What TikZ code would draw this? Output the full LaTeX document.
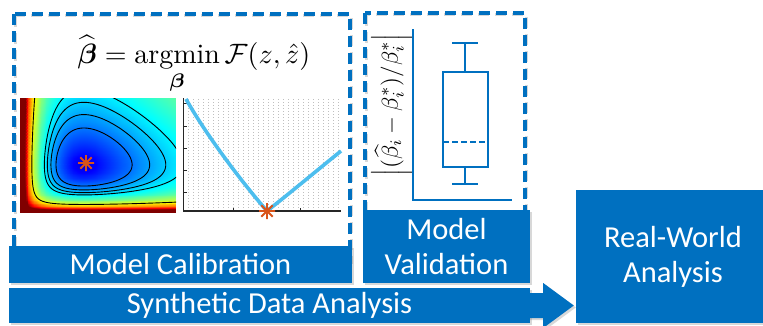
\documentclass[tikz,border=0pt]{standalone}
\usepackage{amsmath}
\usepackage{fontspec}
\newfontfamily\calib{Carlito}
\usepackage{pgfplots}
\pgfplotsset{compat=1.18}
\usetikzlibrary{calc,shadows}

\definecolor{brandblue}{HTML}{0070C0}
\definecolor{curveblue}{rgb}{0.301,0.745,0.933}
\definecolor{starred}{rgb}{0.85,0.325,0.098}

\tikzset{
  frame/.style={draw=brandblue, line width=3.5pt, dash pattern=on 11pt off 6pt},
  frameshade/.style={draw=black!25, line width=3.5pt, dash pattern=on 11pt off 6pt, opacity=0.6},
  bar/.style={fill=brandblue, text=white, inner sep=0pt, align=center,
    font=\calib\fontsize{30.5}{35}\selectfont,
    drop shadow={opacity=0.3, shadow xshift=2pt, shadow yshift=-2pt}},
  boxline/.style={draw=brandblue, line width=2.6pt},
  starmark/.style={draw=starred, line width=1.9pt},
  asterisk/.pic={
    \draw[starmark] (-8,0) -- (8,0) (0,-8) -- (0,8)
      (-5.7,-5.7) -- (5.7,5.7) (-5.7,5.7) -- (5.7,-5.7);
  },
}

\begin{document}
\begin{tikzpicture}[x=1pt,y=1pt]
\useasboundingbox (0,0) rectangle (763,-325);
\fill[white] (0,0) rectangle (763,-325);

% dashed frames around calibration and validation panels
\draw[frameshade] (15.5,-15.5) rectangle (351.5,-262);
\draw[frame] (14,-14) rectangle (350,-262);
\draw[frameshade] (366.5,-14.5) rectangle (526.5,-230);
\draw[frame] (365,-13) rectangle (525,-230);

% cost-function landscape (jet colour map with contour lines);
% the grid is denser towards the steep left and bottom edges
\begin{axis}[at={(20pt,-212pt)}, anchor=south west, scale only axis,
  width=156pt, height=114pt, hide axis, view={0}{90},
  xmin=0.03, xmax=2.4, ymin=0.06, ymax=2.33,
  colormap/jet, point meta min=0, point meta max=1,
  declare function={
    gridx(\s)=0.03+2.37*\s*sqrt(\s);
    gridy(\s)=0.06+2.27*\s*sqrt(\s);
    cost(\a,\b)=1/\a+\a+1/\b+\b;
    tone(\a,\b)=0.08+0.3*exp(0.54*ln(max(cost(\a,\b)-4,0.0001)));
  }]
  \addplot3[surf, shader=interp, domain=0:1, y domain=0:1, samples=50]
    ({gridx(x)}, {gridy(y)}, {tone(gridx(x),gridy(y))});
  \pgfplotsinvokeforeach{0.31,0.5,0.69,0.9,2.97}{
    \addplot3[black, line width=0.9pt, domain=0:360, samples=181, samples y=0]
      ({(2+#1*sin(x)*sin(x)+sin(x)*sqrt(4*#1+#1*#1*sin(x)*sin(x)))/2},
       {(2+#1*cos(x)*cos(x)+cos(x)*sqrt(4*#1+#1*#1*cos(x)*cos(x)))/2}, 6);
  }
\end{axis}
\pic at (86,-163) {asterisk};

% one-dimensional cost profile
\foreach \xx in {188,193,...,338}
  \draw[gray!50, line width=0.5pt, dash pattern=on 0.7pt off 2.3pt] (\xx,-99) -- (\xx,-208);
\draw[black!85, line width=1.2pt] (183.5,-98) -- (183.5,-211) -- (341,-211);
\foreach \yy in {103,126,148,170,192}
  \draw[black!85, line width=1pt] (183.5,-\yy) -- +(3.5,0);
\foreach \xx in {233,300}
  \draw[black!85, line width=1pt] (\xx,-211) -- +(0,3.5);
\draw[curveblue, line width=3.6pt]
  (186,-99) .. controls (205,-133) and (240,-180) .. (267,-211)
  .. controls (290,-193) and (315,-172) .. (341,-151);
\pic at (267,-211) {asterisk};

% objective
\node[anchor=base, scale=2.8] (formula) at (194,-63)
  {$\displaystyle \widehat{\boldsymbol{\beta}} = \operatorname*{argmin}_{\boldsymbol{\beta}} \mathcal{F}(z,\hat{z})$};

% validation box plot
\node[rotate=90, scale=2.3] (vlabel) at (392,-105)
  {$\left|(\widehat{\beta}_i-\beta_i^*)/\beta_i^*\right|$};
\draw[boxline] (413,-29) -- (413,-200) -- (512,-200);
\draw[boxline] (443,-72) rectangle (488,-167);
\draw[boxline, dash pattern=on 6pt off 3pt] (443,-142) -- (488,-142);
\draw[boxline] (465,-72) -- (465,-43) (452,-43) -- (478,-43);
\draw[boxline] (465,-167) -- (465,-184) (452,-184) -- (478,-184);

% stage labels
\node[bar, minimum width=343pt, minimum height=37pt] (cal) at (180.5,-264.5) {Model Calibration};
\node[bar, minimum width=167pt, minimum height=73pt] (val) at (446.5,-246.5) {Model\\Validation};
\node[bar, minimum width=521pt, minimum height=35pt] (synth) at (269.5,-305.5) {Synthetic Data Analysis};
\node[bar, minimum width=194pt, minimum height=133pt] (rw) at (673,-256.5) {Real-World\\Analysis};

% block arrow into the real-world stage
\fill[brandblue, drop shadow={opacity=0.3, shadow xshift=2pt, shadow yshift=-2pt}]
  ($(synth.east)+(-2,12.5)$) -- ($(synth.east)+(13,12.5)$) -- ($(synth.east)+(13,22.5)$)
  -- ($(rw.west |- synth.east)+(-2,0)$)
  -- ($(synth.east)+(13,-22.5)$) -- ($(synth.east)+(13,-12.5)$) -- ($(synth.east)+(-2,-12.5)$) -- cycle;
\end{tikzpicture}
\end{document}
